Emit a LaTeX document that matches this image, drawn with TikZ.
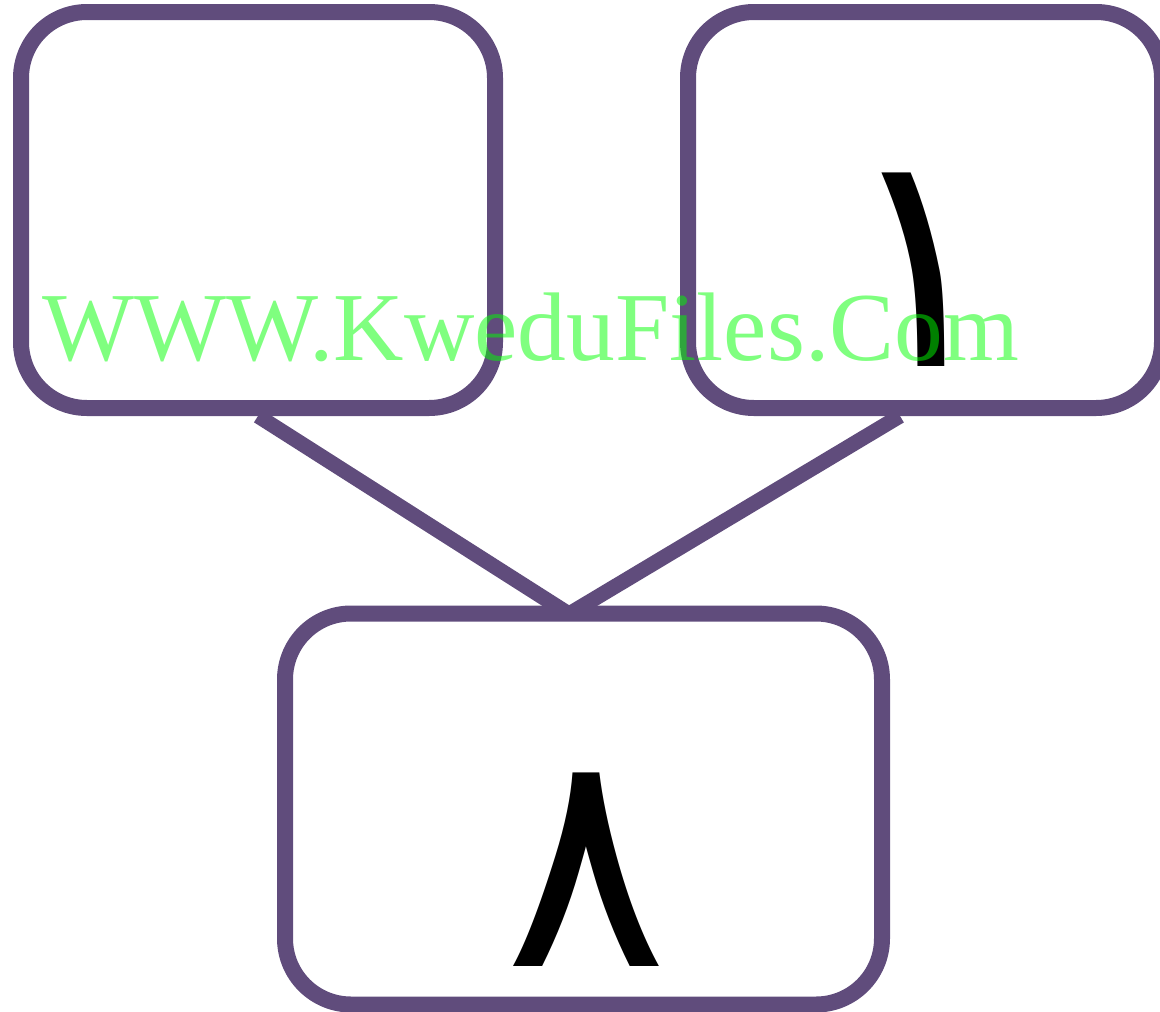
\documentclass[tikz,border=0pt]{standalone}
\usepackage{fontspec}
\setmainfont{Liberation Serif}
\newfontfamily\arabicfont[Script=Arabic]{DejaVu Sans}
\TeXXeTstate=1
\usepackage{xcolor}
\usetikzlibrary{positioning}

\definecolor{boxpurple}{RGB}{96,76,124}
\definecolor{markgreen}{RGB}{0,255,0}

\tikzset{
    digitbox/.style={draw=boxpurple, line width=16pt, rounded corners=66pt,
        minimum width=474pt, minimum height=396pt, inner sep=0pt},
    link/.style={draw=boxpurple, line width=15pt},
    digit/.style={font=\arabicfont\fontsize{305}{305}\selectfont, inner sep=0pt}
}

\begin{document}
\begin{tikzpicture}[x=1pt,y=-1pt]
    \useasboundingbox (0,0) rectangle (1160,1012);
    % Draw boxes
    \node[digitbox] (left) at (258,210) {};
    \node[digitbox] (right) at (925,210) {};
    \node[digitbox, minimum width=597pt, minimum height=391pt] (bottom) at (583.5,809) {};
    % Digits
    \node[digit] (one) at (922,270) {\beginR ١\endR};
    \node[digit] (eight) at (586,870) {\beginR ٨\endR};
    % Links
    \coordinate (meet) at (569,614);
    \draw[link] (left.south) -- (meet);
    \draw[link] ([xshift=-25pt]right.south) -- (meet);
    % Watermark
    \node[text=markgreen, opacity=0.5, inner sep=0pt, anchor=base west,
        font=\fontsize{97.5}{97.5}\selectfont] (mark) at (42,360) {WWW.KweduFiles.Com};
\end{tikzpicture}
\end{document}
